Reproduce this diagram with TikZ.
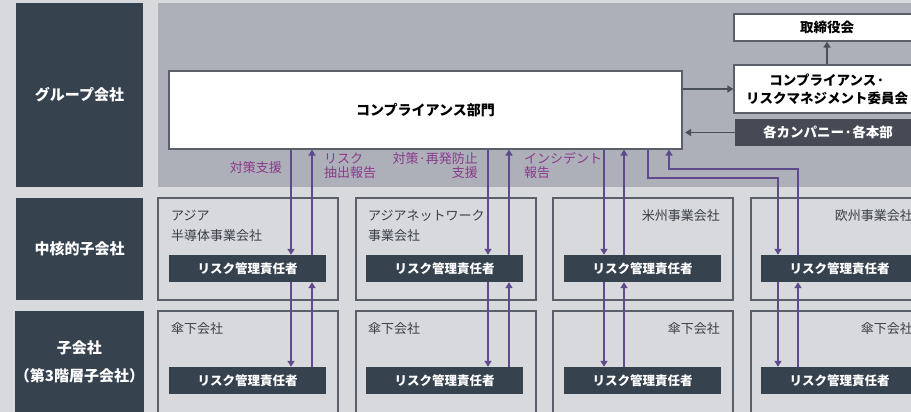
\documentclass[tikz,border=0pt]{standalone}
\usepackage{fontspec}
\setmainfont{Noto Sans CJK JP}
\usetikzlibrary{arrows.meta}
\definecolor{pagebg}{HTML}{D8D9DC}
\definecolor{grpbg}{HTML}{ADB0B9}
\definecolor{slate}{HTML}{36434F}
\definecolor{deepgray}{HTML}{454A55}
\definecolor{edgegray}{HTML}{5A5F69}
\definecolor{arrowgray}{HTML}{4A505A}
\definecolor{lineviolet}{HTML}{5E4A8C}
\definecolor{labelviolet}{HTML}{8A3A8C}
\definecolor{textgray}{HTML}{3A3F48}
\tikzset{
  rowlabel/.style={fill=slate, text=white, font=\fontsize{15}{28}\selectfont\bfseries, align=center, minimum width=127, inner sep=0},
  compbox/.style={draw=edgegray, line width=1.1pt, fill=pagebg, minimum width=180, inner sep=0},
  whitebox/.style={draw=edgegray, line width=1.2pt, fill=white, inner sep=0},
  rmbox/.style={fill=slate, text=white, font=\fontsize{12.5}{14}\selectfont\bfseries, minimum width=157, minimum height=27, inner sep=0},
  coname/.style={text=textgray, font=\fontsize{13}{20}\selectfont, inner sep=0},
  vlabel/.style={text=labelviolet, font=\fontsize{13}{14}\selectfont, inner sep=0},
  parrow/.style={draw=lineviolet, line width=1.5pt, -{Triangle[length=6,width=7]}},
  garrow/.style={draw=arrowgray, line width=1.5pt, -{Triangle[length=6,width=7]}},
}
\begin{document}
\begin{tikzpicture}[x=1pt,y=-1pt]
\useasboundingbox (0,0) rectangle (911,412);
\clip (0,0) rectangle (911,412);
\fill[pagebg] (0,0) rectangle (911,412);
% row labels
\node[rowlabel, minimum height=184] (lg) at (79.5,95) {グループ会社};
\node[rowlabel, minimum height=102] (lc) at (79.5,249) {中核的子会社};
\node[rowlabel, minimum height=101] (ls) at (79.5,361.5) {子会社\\（第3階層子会社）};
% group area
\fill[grpbg] (158,3) rectangle (920,187);
% compliance dept
\node[whitebox, minimum width=513, minimum height=78, font=\fontsize{14}{16}\selectfont\bfseries] (comp) at (425.5,110) {コンプライアンス部門};
\node[whitebox, minimum width=186, minimum height=27, font=\fontsize{13.5}{16}\selectfont\bfseries] (bd) at (827,27.5) {取締役会};
\node[whitebox, minimum width=186, minimum height=48, align=center, font=\fontsize{13.5}{18}\selectfont\bfseries] (cm) at (827,89) {コンプライアンス·\\リスクマネジメント委員会};
\node[fill=deepgray, text=white, minimum width=186, minimum height=27, inner sep=0, font=\fontsize{13.5}{16}\selectfont\bfseries] (ka) at (828,132.5) {各カンパニー·各本部};
% company boxes
\node[compbox, minimum height=102] (c1) at (248,249) {};
\node[compbox, minimum height=102] (c2) at (446,249) {};
\node[compbox, minimum height=102] (c3) at (643,249) {};
\node[compbox, minimum height=102] (c4) at (841,249) {};
\node[compbox, minimum height=120] (s1) at (248,371) {};
\node[compbox, minimum height=120] (s2) at (446,371) {};
\node[compbox, minimum height=120] (s3) at (643,371) {};
\node[compbox, minimum height=120] (s4) at (841,371) {};
% company names
\node[coname, anchor=west, align=left] (n1) at (171,226) {アジア\\半導体事業会社};
\node[coname, anchor=west, align=left] (n2) at (368,226) {アジアネットワーク\\事業会社};
\node[coname, anchor=east] (n3) at (720,216) {米州事業会社};
\node[coname, anchor=east] (n4) at (913,216) {欧州事業会社};
\node[coname, anchor=west] (m1) at (171,329) {傘下会社};
\node[coname, anchor=west] (m2) at (368,329) {傘下会社};
\node[coname, anchor=east] (m3) at (720,329) {傘下会社};
\node[coname, anchor=east] (m4) at (913,329) {傘下会社};
% risk manager boxes
\node[rmbox] (r1) at (247.5,268.5) {リスク管理責任者};
\node[rmbox] (r2) at (444.5,268.5) {リスク管理責任者};
\node[rmbox] (r3) at (642.5,268.5) {リスク管理責任者};
\node[rmbox] (r4) at (839.5,268.5) {リスク管理責任者};
\node[rmbox] (b1) at (247.5,380.5) {リスク管理責任者};
\node[rmbox] (b2) at (444.5,380.5) {リスク管理責任者};
\node[rmbox] (b3) at (642.5,380.5) {リスク管理責任者};
\node[rmbox] (b4) at (839.5,380.5) {リスク管理責任者};
% gray arrows
\draw[garrow] (cm.west -| comp.east) -- (cm.west);
\draw[garrow, shorten >=2.5pt] (ka.west) -- (ka.west -| comp.east);
\draw[garrow] (cm.north) -- (bd.south);
% column coordinates
\coordinate (d1) at (291,0); \coordinate (u1) at (312,0);
\coordinate (d2) at (488,0); \coordinate (u2) at (509,0);
\coordinate (d3) at (604,0); \coordinate (u3) at (624,0);
\coordinate (d4) at (778,0); \coordinate (u4) at (798,0);
\coordinate (d4s) at (648,178); \coordinate (u4s) at (669,169);
% violet arrows to/from dept
\draw[parrow] (d1 |- comp.south) -- (d1 |- r1.north);
\draw[parrow] (u1 |- r1.north) -- (u1 |- comp.south);
\draw[parrow] (d2 |- comp.south) -- (d2 |- r2.north);
\draw[parrow] (u2 |- r2.north) -- (u2 |- comp.south);
\draw[parrow] (d3 |- comp.south) -- (d3 |- r3.north);
\draw[parrow] (u3 |- r3.north) -- (u3 |- comp.south);
\draw[parrow] (d4s |- comp.south) -- (d4s) -- (d4 |- d4s) -- (d4 |- r4.north);
\draw[parrow] (u4 |- r4.north) -- (u4 |- u4s) -- (u4s) -- (u4s |- comp.south);
% violet arrows between rows
\foreach \i in {1,2,3,4}{
  \draw[parrow] (d\i |- r\i.south) -- (d\i |- b\i.north);
  \draw[parrow] (u\i |- b\i.north) -- (u\i |- r\i.south);
}
% violet labels
\node[vlabel, anchor=east] (t1) at (282,168) {対策支援};
\node[vlabel, anchor=west, align=left] (t2) at (324,166) {リスク\\抽出報告};
\node[vlabel, anchor=east, align=right] (t3) at (478,166) {対策·再発防止\\支援};
\node[vlabel, anchor=west, align=left] (t4) at (524,166) {インシデント\\報告};
\end{tikzpicture}
\end{document}
